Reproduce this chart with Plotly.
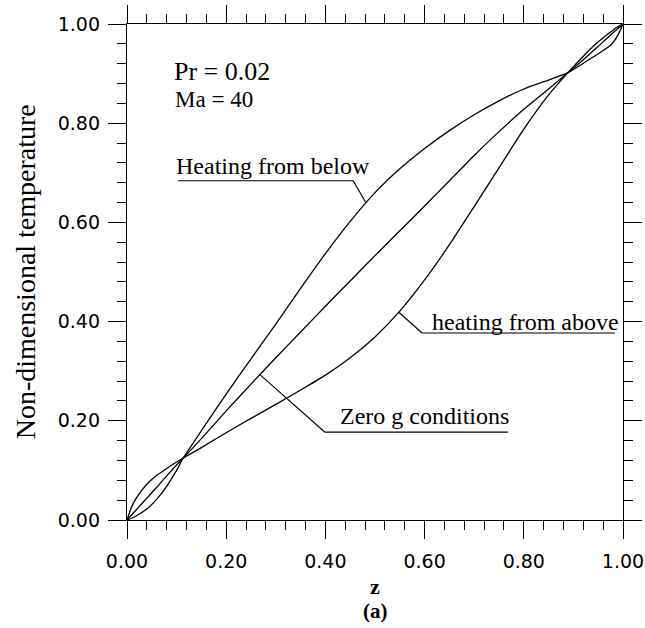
import plotly.graph_objects as go
import numpy as np

# ---- data ----
z = [0.0, 0.01, 0.02, 0.04, 0.06, 0.08, 0.10, 0.1135, 0.15, 0.20, 0.25, 0.30, 0.35,
     0.40, 0.45, 0.50, 0.55, 0.60, 0.65, 0.70, 0.75, 0.80, 0.85, 0.889, 0.92, 0.95,
     0.975, 0.99, 1.0]
t_below = [0.0, 0.004, 0.009, 0.022, 0.042, 0.068, 0.100, 0.125, 0.180, 0.254, 0.325,
           0.395, 0.467, 0.537, 0.602, 0.660, 0.708, 0.749, 0.785, 0.817, 0.845, 0.869,
           0.887, 0.902, 0.921, 0.940, 0.957, 0.978, 1.0]
t_above = [0.0, 0.028, 0.046, 0.072, 0.090, 0.104, 0.117, 0.125, 0.146, 0.176, 0.205,
           0.233, 0.262, 0.292, 0.327, 0.369, 0.421, 0.484, 0.555, 0.632, 0.710, 0.788,
           0.857, 0.902, 0.935, 0.964, 0.984, 0.995, 1.0]
t_zero = [0.0, 0.011, 0.022, 0.044, 0.066, 0.089, 0.111, 0.125, 0.164, 0.220, 0.274,
          0.327, 0.379, 0.431, 0.482, 0.533, 0.583, 0.633, 0.684, 0.735, 0.783, 0.828,
          0.869, 0.902, 0.928, 0.955, 0.978, 0.991, 1.0]

tick_vals = [0.0, 0.2, 0.4, 0.6, 0.8, 1.0]
tick_text = ["0.00", "0.20", "0.40", "0.60", "0.80", "1.00"]

# labels: (text, x-left, y-center, size)
labels = [
    ("Pr = 0.02", 0.093, 0.904, 26),
    ("Ma = 40", 0.095, 0.848, 23),
    ("Heating from below", 0.097, 0.713, 24),
    ("heating from above", 0.612, 0.400, 24),
    ("Zero g conditions", 0.428, 0.210, 24),
]
# leader lines: (underline x0, underline x1, underline y, target z, curve)
leaders = [
    (0.103, 0.456, 0.684, 0.482, t_below),
    (0.595, 0.984, 0.377, 0.548, t_above),
    (0.399, 0.768, 0.177, 0.268, t_zero),
]

SERIF = "Liberation Serif, Times New Roman, serif"
SANS = "DejaVu Sans, Arial, sans-serif"

fig = go.Figure()
for ys in (t_below, t_zero, t_above):
    fig.add_trace(go.Scatter(x=z, y=ys, mode="lines",
                             line=dict(color="black", width=1.3, shape="spline", smoothing=0.6),
                             showlegend=False, hoverinfo="skip"))

for x0, x1, yu, zt, curve in leaders:
    yt = float(np.interp(zt, z, curve))
    fig.add_shape(type="line", xref="x", yref="y", x0=x0, x1=x1, y0=yu, y1=yu,
                  line=dict(color="black", width=1.2))
    fig.add_shape(type="line", xref="x", yref="y", x0=x0 if zt < x0 else x1, y0=yu,
                  x1=zt, y1=yt, line=dict(color="black", width=1.2))

for txt, xl, yc, sz in labels:
    fig.add_annotation(x=xl, y=yc, xref="x", yref="y", text=txt, showarrow=False,
                       xanchor="left", yanchor="middle", borderpad=0,
                       font=dict(family=SERIF, size=sz, color="black"))

# axis titles and caption
fig.add_annotation(x=-0.205, y=0.5, xref="paper", yref="paper", text="Non-dimensional temperature",
                   textangle=-90, showarrow=False, xanchor="center", yanchor="middle",
                   font=dict(family=SERIF, size=28, color="black"))
fig.add_annotation(x=0.5, y=-0.135, xref="paper", yref="paper", text="<b>z</b>",
                   showarrow=False, xanchor="center", yanchor="middle",
                   font=dict(family=SERIF, size=22, color="black"))
fig.add_annotation(x=0.5, y=-0.183, xref="paper", yref="paper", text="<b>(a)</b>",
                   showarrow=False, xanchor="center", yanchor="middle",
                   font=dict(family=SERIF, size=21, color="black"))

axis_common = dict(
    range=[0, 1], showgrid=False, zeroline=False, showline=True, linecolor="black",
    linewidth=1.3, mirror="ticks", ticks="outside", ticklen=18, tickwidth=1.3,
    tickcolor="black", tickvals=tick_vals, ticktext=tick_text, automargin=False,
    tickfont=dict(family=SANS, size=19, color="black"),
    minor=dict(ticks="outside", ticklen=9, tickwidth=1.2, tickcolor="black",
               tick0=0, dtick=0.04, showgrid=False),
)
fig.update_xaxes(**axis_common, ticklabelstandoff=6)
fig.update_yaxes(**axis_common, ticklabelstandoff=4)

fig.update_layout(width=645, height=628, margin=dict(l=127, r=22, t=24, b=108),
                  plot_bgcolor="white", paper_bgcolor="white")

fig.write_html("out.html")
